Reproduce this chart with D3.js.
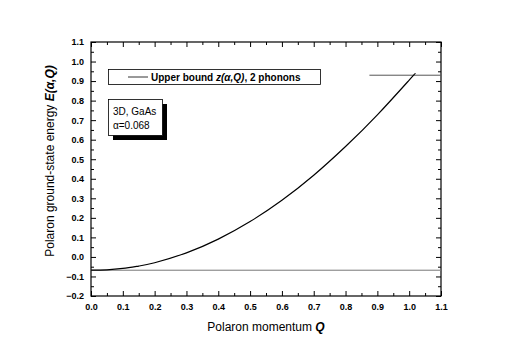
<!DOCTYPE html>
<html>
<head>
<meta charset="utf-8">
<script src="https://d3js.org/d3.v7.min.js"></script>
<style>
  body { margin: 0; background: #fff; }
  svg { font-family: Arial, "Liberation Sans", sans-serif; }
  .tick text { font-weight: bold; font-size: 9px; }
</style>
</head>
<body>
<div id="chart"></div>
<script>
// values
var momentum = [0, 0.05, 0.1, 0.15, 0.2, 0.3, 0.4, 0.5, 0.6, 0.7, 0.8, 0.9, 1.0, 1.018];
var energy = [-0.068, -0.066, -0.059, -0.047, -0.030, 0.021, 0.091, 0.181, 0.290, 0.418, 0.565, 0.727, 0.905, 0.937];
var groundLevel = -0.068;      // horizontal line E = -alpha
var upperBound = 0.93;         // upper bound line
var upperBoundFrom = 0.875;
var xTicks = [0, 0.1, 0.2, 0.3, 0.4, 0.5, 0.6, 0.7, 0.8, 0.9, 1.0, 1.1];
var yTicks = [-0.2, -0.1, 0, 0.1, 0.2, 0.3, 0.4, 0.5, 0.6, 0.7, 0.8, 0.9, 1.0, 1.1];

var W = 512, H = 358;
var margin = {top: 42, right: 71, bottom: 62, left: 91};
var width = W - margin.left - margin.right,
    height = H - margin.top - margin.bottom;

var svg = d3.select("#chart").append("svg")
  .attr("width", W).attr("height", H);
var g = svg.append("g")
  .attr("transform", "translate(" + margin.left + "," + margin.top + ")");

var x = d3.scaleLinear().domain([0, 1.1]).range([0, width]);
var y = d3.scaleLinear().domain([-0.2, 1.1]).range([height, 0]);

var minorX = d3.range(0.05, 1.1, 0.1);
var minorY = d3.range(-0.15, 1.1, 0.1);

// major axes with labels (ticks inward)
var xAxis = d3.axisBottom(x).tickValues(xTicks).tickFormat(d3.format(".1f"))
  .tickSizeInner(-5).tickSizeOuter(0).tickPadding(8);
var yAxis = d3.axisLeft(y).tickValues(yTicks).tickFormat(d3.format(".1f"))
  .tickSizeInner(-5).tickSizeOuter(0).tickPadding(7);

function styleAxis(sel) {
  sel.select(".domain").remove();
  sel.selectAll(".tick line").attr("stroke", "#000");
}

g.append("g").attr("transform", "translate(0," + height + ")").call(xAxis).call(styleAxis);
g.append("g").call(yAxis).call(styleAxis);

// minor ticks and mirrored ticks on top/right
g.append("g").attr("transform", "translate(0," + height + ")")
  .call(d3.axisBottom(x).tickValues(minorX).tickFormat("").tickSizeInner(-3).tickSizeOuter(0)).call(styleAxis);
g.append("g")
  .call(d3.axisLeft(y).tickValues(minorY).tickFormat("").tickSizeInner(-3).tickSizeOuter(0)).call(styleAxis);
g.append("g")
  .call(d3.axisTop(x).tickValues(xTicks).tickFormat("").tickSizeInner(-5).tickSizeOuter(0)).call(styleAxis);
g.append("g")
  .call(d3.axisTop(x).tickValues(minorX).tickFormat("").tickSizeInner(-3).tickSizeOuter(0)).call(styleAxis);
g.append("g").attr("transform", "translate(" + width + ",0)")
  .call(d3.axisRight(y).tickValues(yTicks).tickFormat("").tickSizeInner(-5).tickSizeOuter(0)).call(styleAxis);
g.append("g").attr("transform", "translate(" + width + ",0)")
  .call(d3.axisRight(y).tickValues(minorY).tickFormat("").tickSizeInner(-3).tickSizeOuter(0)).call(styleAxis);

// frame
g.append("rect").attr("width", width).attr("height", height)
  .attr("fill", "none").attr("stroke", "#000").attr("stroke-width", 1.2);

// ground level line
g.append("line")
  .attr("x1", x(0)).attr("x2", x(1.1))
  .attr("y1", y(groundLevel)).attr("y2", y(groundLevel))
  .attr("stroke", "#777").attr("stroke-width", 1);

// upper bound line
g.append("line")
  .attr("x1", x(upperBoundFrom)).attr("x2", x(1.1))
  .attr("y1", y(upperBound)).attr("y2", y(upperBound))
  .attr("stroke", "#555").attr("stroke-width", 1);

// energy curve
var line = d3.line()
  .curve(d3.curveNatural)
  .x(function(d, i) { return x(momentum[i]); })
  .y(function(d) { return y(d); });
g.append("path").datum(energy)
  .attr("d", line).attr("fill", "none")
  .attr("stroke", "#000").attr("stroke-width", 1.2);

// legend
var leg = svg.append("g");
leg.append("rect").attr("x", 108.5).attr("y", 69.5).attr("width", 212).attr("height", 15)
  .attr("fill", "#fff").attr("stroke", "#000").attr("stroke-width", 0.8);
leg.append("line").attr("x1", 128).attr("x2", 148).attr("y1", 77).attr("y2", 77)
  .attr("stroke", "#000").attr("stroke-width", 0.8);
var lt = leg.append("text").attr("x", 151).attr("y", 80.5)
  .attr("font-size", 10).attr("font-weight", "bold");
lt.append("tspan").text("Upper bound ");
lt.append("tspan").attr("font-style", "italic").text("z(α,Q)");
lt.append("tspan").text(", 2 phonons");

// info box with shadow
var box = svg.append("g");
box.append("rect").attr("x", 113).attr("y", 104).attr("width", 54).attr("height", 36).attr("fill", "#000");
box.append("rect").attr("x", 108.5).attr("y", 99.5).attr("width", 54).attr("height", 36)
  .attr("fill", "#fff").attr("stroke", "#000").attr("stroke-width", 0.8);
box.append("text").attr("x", 113).attr("y", 115).attr("font-size", 10).text("3D, GaAs");
box.append("text").attr("x", 113).attr("y", 129).attr("font-size", 10).text("α=0.068");

// axis titles
var xt = svg.append("text")
  .attr("x", margin.left + width / 2).attr("y", 331)
  .attr("text-anchor", "middle").attr("font-size", 12);
xt.append("tspan").text("Polaron momentum ");
xt.append("tspan").attr("font-weight", "bold").attr("font-style", "italic").text("Q");

var yt = svg.append("text")
  .attr("transform", "translate(54," + (margin.top + height / 2 - 8) + ") rotate(-90)")
  .attr("text-anchor", "middle").attr("font-size", 12);
yt.append("tspan").text("Polaron ground-state energy ");
yt.append("tspan").attr("font-weight", "bold").attr("font-style", "italic").text("E(α,Q)");
</script>
</body>
</html>
